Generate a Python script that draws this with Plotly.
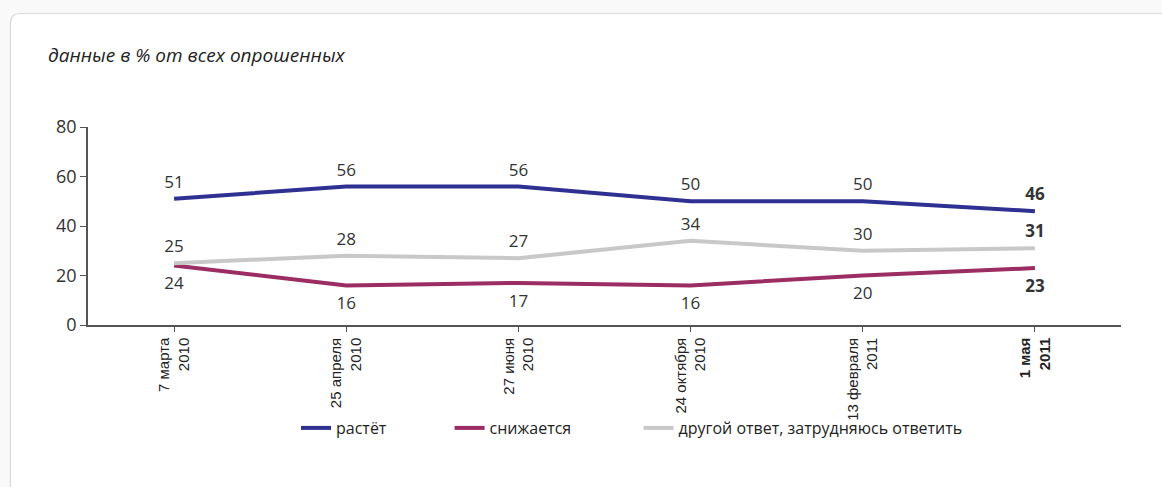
import plotly.graph_objects as go

categories = ["7 марта<br>2010", "25 апреля<br>2010", "27 июня<br>2010",
              "24 октября<br>2010", "13 февраля<br>2011", "<b>1 мая<br>2011</b>"]
grows = [51, 56, 56, 50, 50, 46]
declines = [24, 16, 17, 16, 20, 23]
other = [25, 28, 27, 34, 30, 31]
series_names = ["растёт", "снижается", "другой ответ, затрудняюсь ответить"]
colors = ["#2e3192", "#9b2d62", "#c8c8c8"]
title_text = "данные в % от всех опрошенных"

W, H = 1162, 487
ML, MR, MT, MB = 88, 41, 127, 162
PW, PH = W - ML - MR, H - MT - MB

def px(x):
    return (x - ML) / PW

def py(y):
    return (H - MB - y) / PH

def labels(vals):
    out = [str(v) for v in vals]
    out[-1] = "<b>%d</b>" % vals[-1]
    return out

pad = ["\u00a0" * 14, "\u00a0" * 15, ""]
x = list(range(len(categories)))
fig = go.Figure()
specs = [(grows, "top center", 9), (declines, "bottom center", 16), (other, "top center", 9)]
for i, (vals, pos, msize) in enumerate(specs):
    fig.add_trace(go.Scatter(
        x=x, y=vals, name=series_names[i] + pad[i], mode="lines",
        line=dict(color=colors[i], width=4), hoverinfo="x+y",
    ))
for i, (vals, pos, msize) in enumerate(specs):
    fig.add_trace(go.Scatter(
        x=x, y=vals, mode="markers+text", showlegend=False,
        marker=dict(size=msize, opacity=0, color=colors[i]),
        text=labels(vals), textposition=pos,
        textfont=dict(family="Open Sans", size=17, color="#333333"),
        cliponaxis=False, hoverinfo="skip",
    ))

# card background with rounded corner
r = 10
x0, y0 = 10.5, 13.5
x1, y1 = W + 20, H + 20
path = (f"M {px(x0)},{py(y1)} L {px(x0)},{py(y0 + r)} "
        f"Q {px(x0)},{py(y0)} {px(x0 + r)},{py(y0)} L {px(x1)},{py(y0)} "
        f"L {px(x1)},{py(y1)} Z")

fig.update_layout(
    width=W, height=H,
    margin=dict(l=ML, r=MR, t=MT, b=MB, autoexpand=False),
    paper_bgcolor="#f9f9f9",
    plot_bgcolor="rgba(0,0,0,0)",
    shapes=[dict(type="path", xref="paper", yref="paper", path=path,
                 fillcolor="white", line=dict(color="#dadada", width=1.2),
                 layer="below")],
    annotations=[dict(text="<i>" + title_text + "</i>", xref="paper", yref="paper",
                      x=px(46), y=py(55), xanchor="left", yanchor="middle",
                      showarrow=False,
                      font=dict(family="Open Sans", size=19, color="#222222"))],
    xaxis=dict(
        range=[-0.5, len(categories) - 0.5],
        tickmode="array", tickvals=x, ticktext=categories,
        tickson="boundaries", ticks="outside", ticklen=5, tickcolor="#555555",
        tickangle=-90, showgrid=False, zeroline=False,
        showline=True, linecolor="#555555", linewidth=1.5,
        tickfont=dict(family="Liberation Sans", size=15, color="#222222"),
    ),
    yaxis=dict(
        range=[0, 80], tickvals=[0, 20, 40, 60, 80],
        ticks="outside", ticklen=6, tickcolor="#555555",
        showgrid=False, zeroline=False,
        showline=True, linecolor="#555555", linewidth=1.5,
        tickfont=dict(family="Open Sans", size=18, color="#333333"),
    ),
    legend=dict(
        orientation="h", x=px(632), xanchor="center", y=py(428), yanchor="middle",
        font=dict(family="Open Sans", size=16, color="#222222"),
        bgcolor="rgba(0,0,0,0)",
    ),
    showlegend=True,
)

fig.write_html("out.html", config={"displayModeBar": False},
               post_script="document.body.style.margin='0px';")
